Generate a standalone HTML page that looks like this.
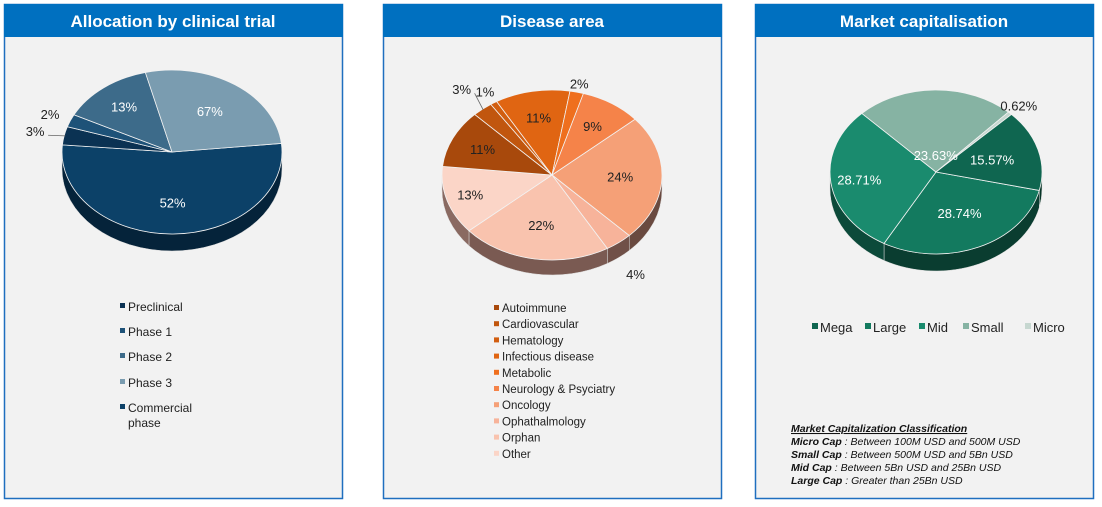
<!DOCTYPE html>
<html><head><meta charset="utf-8"><style>
html,body{margin:0;padding:0;background:#fff;}
svg{display:block;font-family:"Liberation Sans",Arial,sans-serif;}
</style></head><body>
<svg id="s" width="1102" height="507" viewBox="0 0 1102 507" xmlns="http://www.w3.org/2000/svg">
  <g>
    <rect x="4.5" y="4.5" width="338" height="494" fill="#f2f2f2" stroke="#1f6fbf" stroke-width="1.5"/>
    <rect x="4" y="4" width="339" height="33" fill="#0070c0"/>
    <text x="173" y="27" text-anchor="middle" fill="#fff" font-weight="bold" font-size="17">Allocation  by clinical trial</text>
    <g id="pie1"></g>
    <g id="leg1"></g>
  </g>
  <g>
    <rect x="383.5" y="4.5" width="338" height="494" fill="#f2f2f2" stroke="#1f6fbf" stroke-width="1.5"/>
    <rect x="383" y="4" width="339" height="33" fill="#0070c0"/>
    <text x="552" y="27" text-anchor="middle" fill="#fff" font-weight="bold" font-size="17">Disease  area</text>
    <g id="pie2"></g>
    <g id="leg2"></g>
  </g>
  <g>
    <rect x="755.5" y="4.5" width="338" height="494" fill="#f2f2f2" stroke="#1f6fbf" stroke-width="1.5"/>
    <rect x="755" y="4" width="339" height="33" fill="#0070c0"/>
    <text x="924" y="27" text-anchor="middle" fill="#fff" font-weight="bold" font-size="17">Market capitalisation</text>
    <g id="pie3"></g>
    <g id="leg3"></g>
    <g font-size="10.5" font-style="italic" fill="#111">
      <text x="791" y="432" font-weight="bold" text-decoration="underline">Market Capitalization Classification</text>
      <text x="791" y="445"><tspan font-weight="bold">Micro Cap</tspan> : Between 100M USD and 500M USD</text>
      <text x="791" y="458"><tspan font-weight="bold">Small Cap</tspan> : Between 500M USD and 5Bn USD</text>
      <text x="791" y="471"><tspan font-weight="bold">Mid Cap</tspan>     : Between 5Bn USD and 25Bn USD</text>
      <text x="791" y="484"><tspan font-weight="bold">Large Cap</tspan> : Greater than 25Bn USD</text>
    </g>
  </g>
</svg>
<script>
// Chart 1: Allocation by clinical trial (clockwise from right)
const trialCategories = ["Commercial phase","Preclinical","Phase 1","Phase 2","Phase 3"];
const trialShares = [53, 3.6, 2.5, 13.6, 27.2];
const trialLabels = ["52%","3%","2%","13%","67%"];
const trialLegend = ["Preclinical","Phase 1","Phase 2","Phase 3","Commercial phase"];
// Chart 2: Disease area
const diseaseCategories = ["Oncology","Ophathalmology","Orphan","Other","Autoimmune","Cardiovascular","Hematology","Infectious disease","Metabolic","Neurology & Psyciatry"];
const diseaseValues = [24, 4, 22, 13, 11, 3, 1, 11, 2, 9];
const diseaseLabels = ["24%","4%","22%","13%","11%","3%","1%","11%","2%","9%"];
const diseaseLegend = ["Autoimmune","Cardiovascular","Hematology","Infectious disease","Metabolic","Neurology & Psyciatry","Oncology","Ophathalmology","Orphan","Other"];
// Chart 3: Market capitalisation
const capCategories = ["Large","Mid","Small","Micro","Mega"];
const capValues = [28.74, 28.71, 23.63, 0.62, 15.57];
const capLabels = ["28.74%","28.71%","23.63%","0.62%","15.57%"];
const capLegend = ["Mega","Large","Mid","Small","Micro"];

const NS="http://www.w3.org/2000/svg";
function mk(tag,attrs,parent){const e=document.createElementNS(NS,tag);for(const k in attrs)e.setAttribute(k,attrs[k]);parent.appendChild(e);return e;}

function pie3d(gid,cfg){
  const g=document.getElementById(gid);
  const {cx,cy,rx,ry,depth,start,values,labels,colors,sideColors,lf,labelColors,fs,leaders}=cfg;
  const tot=values.reduce((a,b)=>a+b,0);
  let a=start;const segs=[];
  values.forEach((v,i)=>{const s=a;const e=a+v/tot*360;segs.push([s,e]);a=e;});
  const P=(d,dy)=>{const r=d*Math.PI/180;return [cx+rx*Math.cos(r),cy+ry*Math.sin(r)+(dy||0)];};
  segs.forEach(([s,e],i)=>{
    for(let k=-1;k<=1;k++){
      const lo=Math.max(s,0+360*k), hi=Math.min(e,180+360*k);
      if(hi>lo){
        const p1=P(lo),p2=P(hi),p3=P(hi,depth),p4=P(lo,depth);
        const side=mk('path',{d:`M${p1[0]},${p1[1]} A${rx},${ry} 0 0 1 ${p2[0]},${p2[1]} L${p3[0]},${p3[1]} A${rx},${ry} 0 0 0 ${p4[0]},${p4[1]} Z`,fill:sideColors[i],stroke:'#ddd','stroke-width':0.5},g);
        
        
      }
    }
  });
  segs.forEach(([s,e],i)=>{
    const p1=P(s),p2=P(e);const large=(e-s)>180?1:0;
    const sl=mk('path',{d:`M${cx},${cy} L${p1[0]},${p1[1]} A${rx},${ry} 0 ${large} 1 ${p2[0]},${p2[1]} Z`,fill:colors[i],stroke:'#f2f2f2','stroke-width':0.8},g);
    
    
  });
  segs.forEach(([s,e],i)=>{
    const m=(s+e)/2*Math.PI/180;const f=lf[i];
    let x=cx+rx*f*Math.cos(m), y=cy+ry*f*Math.sin(m);
    if(f>1 && leaders && leaders[i]){
      const ex=cx+rx*0.99*Math.cos(m), ey=cy+ry*0.99*Math.sin(m);
      const ln=mk('line',{x1:x+13,y1:y+4,x2:ex,y2:ey,stroke:'#666','stroke-width':0.8},g);
      
      
    }
    if(f>1 && Math.sin(m)>0.2) y+=depth;
    const t=mk('text',{x:x,y:y+fs*0.35,'text-anchor':'middle','font-size':fs,fill:labelColors[i]},g);
    t.textContent=labels[i];
    
    
  });
}

pie3d('pie1',{cx:172,cy:152,rx:110,ry:82,depth:17,start:-6,cats:trialCategories,values:trialShares,labels:trialLabels,
  colors:["#0c4168","#0b3253","#1e5278","#3d6b8a","#7a9cb0"],
  sideColors:["#05233a","#051a2c","#0e2c45","#203c52","#445a6a"],
  lf:[0.62,1.27,1.2,0.7,0.6],leaders:[0,1,0,0,0],
  labelColors:["#fff","#222","#222","#fff","#fff"],fs:13});

pie3d('pie2',{cx:552,cy:175,rx:110,ry:85,depth:15,start:-41,cats:diseaseCategories,values:diseaseValues,labels:diseaseLabels,
  colors:["#f5a077","#f7b39a","#f9c3ae","#fbd5c7","#a8490c","#c1560e","#d25e10","#e06512","#ef6f1e","#f58349"],
  sideColors:["#6a4a40","#705048","#7a5a52","#8a6a62","#5a3020","#603520","#603520","#603520","#603520","#6a4232"],
  lf:[0.62,1.25,0.6,0.78,0.7,1.3,1.15,0.68,1.1,0.68],leaders:[0,0,0,0,0,1,0,0,0,0],
  labelColors:["#222","#222","#222","#222","#222","#222","#222","#222","#222","#222"],fs:13});

pie3d('pie3',{cx:936,cy:172,rx:106,ry:82,depth:17,start:13,cats:capCategories,values:capValues,labels:capLabels,
  colors:["#137a5f","#1a8b6e","#86b3a3","#c6d7d0","#0f6650"],
  sideColors:["#0a3d30","#0c4a3a","#3a5a50","#5a6a66","#083628"],
  lf:[0.55,0.73,0.2,1.12,0.55],leaders:[0,0,0,0,0],
  labelColors:["#fff","#fff","#fff","#222","#fff"],fs:13});

(function(){
  const g=document.getElementById('leg1');
  const cols=["#0b3253","#1e5278","#3d6b8a","#7a9cb0","#0c4168"];
  const ys=[307,332,357,383,408];
  trialLegend.forEach((n,i)=>{
    const r=mk('rect',{x:120,y:ys[i]-4,width:5,height:5,fill:cols[i]},g);
    
    
    const parts=n==="Commercial phase"?["Commercial","phase"]:[n];
    parts.forEach((p,j)=>{
      const t=mk('text',{x:128,y:ys[i]+4+j*15,'font-size':12,fill:'#222'},g);t.textContent=p;
      
      
    });
  });
})();
(function(){
  const g=document.getElementById('leg2');
  const cols=["#a8490c","#c1560e","#d25e10","#e06512","#ef6f1e","#f58349","#f5a077","#f7b39a","#f9c3ae","#fbd5c7"];
  diseaseLegend.forEach((n,i)=>{
    const y=308+i*16.2;
    const r=mk('rect',{x:494,y:y-3,width:5,height:5,fill:cols[i]},g);
    
    
    const t=mk('text',{x:502,y:y+4,'font-size':11.5,fill:'#222'},g);t.textContent=n;
    
    
  });
})();
(function(){
  const g=document.getElementById('leg3');
  const cols=["#0f6650","#137a5f","#1a8b6e","#86b3a3","#c6d7d0"];
  const xs=[812,865,919,963,1025];
  capLegend.forEach((n,i)=>{
    const r=mk('rect',{x:xs[i],y:323,width:6,height:6,fill:cols[i]},g);
    
    
    const t=mk('text',{x:xs[i]+8,y:332,'font-size':13,fill:'#222'},g);t.textContent=n;
    
    
  });
})();
</script>
</body></html>
